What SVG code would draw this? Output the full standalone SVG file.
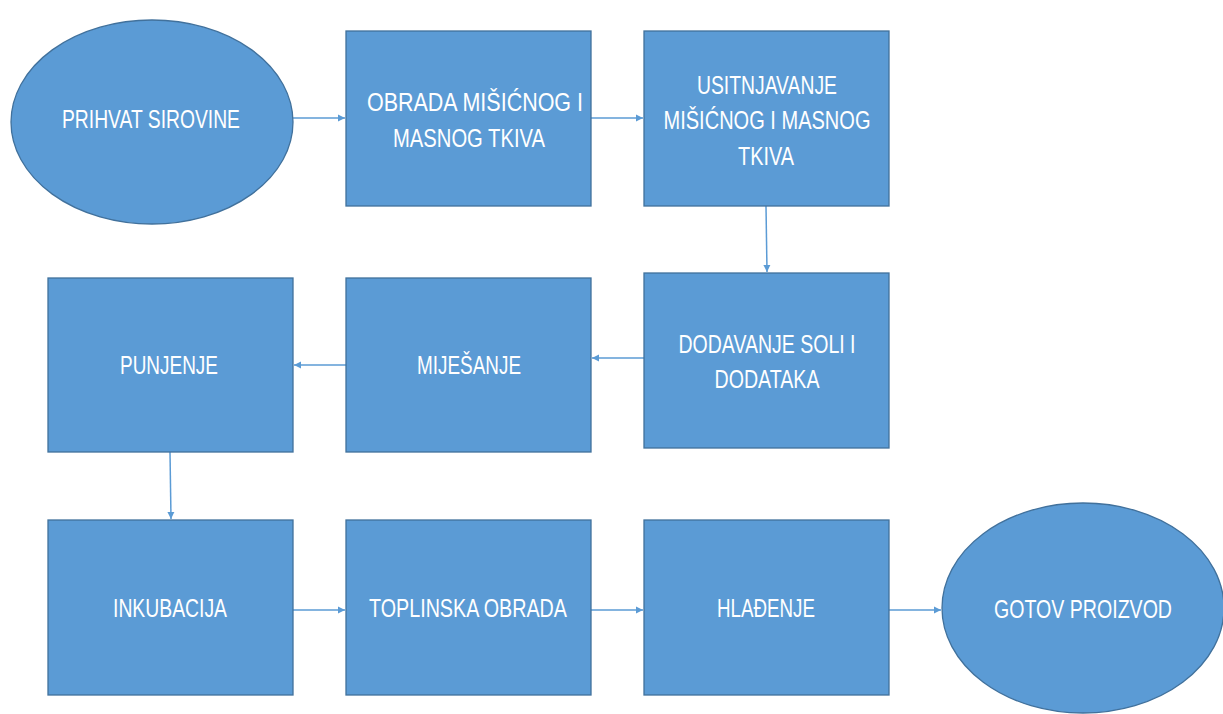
<svg xmlns="http://www.w3.org/2000/svg" width="1223" height="714" viewBox="0 0 1223 714">
<style>
.n{fill:#5B9BD5;stroke:#41719C;stroke-width:1.3}
.t{fill:#FFFFFF;font-family:"Liberation Sans",Arial,sans-serif;font-size:25px;text-anchor:middle}
.c{stroke:#5B9BD5;stroke-width:1.5;fill:none;marker-end:url(#ah)}
</style>
<defs>
<marker id="ah" markerWidth="8" markerHeight="8" refX="7" refY="4" orient="auto" markerUnits="userSpaceOnUse">
<path d="M0,0.5 L7,4 L0,7.5 Z" fill="#5B9BD5"/>
</marker>
</defs>
<rect width="1223" height="714" fill="#FFFFFF"/>
<g id="connectors">
<line class="c" x1="293" y1="118" x2="345" y2="118"/>
<line class="c" x1="591" y1="118" x2="643" y2="118"/>
<line class="c" x1="766" y1="206" x2="767" y2="272"/>
<line class="c" x1="644" y1="358" x2="592" y2="358"/>
<line class="c" x1="346" y1="365" x2="294" y2="365"/>
<line class="c" x1="170" y1="452" x2="171" y2="519"/>
<line class="c" x1="293" y1="610" x2="345" y2="610"/>
<line class="c" x1="591" y1="610" x2="643" y2="610"/>
<line class="c" x1="889" y1="610" x2="941" y2="610"/>
</g>
<g id="n1">
<ellipse class="n" cx="152" cy="122" rx="141" ry="102"/>
<text class="t" x="151" y="128" textLength="178" lengthAdjust="spacingAndGlyphs">PRIHVAT SIROVINE</text>
</g>
<g id="n2">
<rect class="n" x="346" y="31" width="245" height="175"/>
<text class="t" x="475" y="111" textLength="216" lengthAdjust="spacingAndGlyphs">OBRADA MIŠIĆNOG I</text>
<text class="t" x="469" y="147" textLength="152" lengthAdjust="spacingAndGlyphs">MASNOG TKIVA</text>
</g>
<g id="n3">
<rect class="n" x="644" y="31" width="245" height="175"/>
<text class="t" x="767" y="94" textLength="140" lengthAdjust="spacingAndGlyphs">USITNJAVANJE</text>
<text class="t" x="767" y="129" textLength="207" lengthAdjust="spacingAndGlyphs">MIŠIĆNOG I MASNOG</text>
<text class="t" x="766" y="165" textLength="56" lengthAdjust="spacingAndGlyphs">TKIVA</text>
</g>
<g id="n4">
<rect class="n" x="644" y="273" width="245" height="175"/>
<text class="t" x="767" y="353" textLength="177" lengthAdjust="spacingAndGlyphs">DODAVANJE SOLI I</text>
<text class="t" x="767" y="388" textLength="105" lengthAdjust="spacingAndGlyphs">DODATAKA</text>
</g>
<g id="n5">
<rect class="n" x="346" y="278" width="245" height="174"/>
<text class="t" x="469" y="374" textLength="104" lengthAdjust="spacingAndGlyphs">MIJEŠANJE</text>
</g>
<g id="n6">
<rect class="n" x="48" y="278" width="245" height="174"/>
<text class="t" x="169" y="374" textLength="98" lengthAdjust="spacingAndGlyphs">PUNJENJE</text>
</g>
<g id="n7">
<rect class="n" x="48" y="520" width="245" height="175"/>
<text class="t" x="170" y="617" textLength="114" lengthAdjust="spacingAndGlyphs">INKUBACIJA</text>
</g>
<g id="n8">
<rect class="n" x="346" y="520" width="245" height="175"/>
<text class="t" x="468" y="617" textLength="198" lengthAdjust="spacingAndGlyphs">TOPLINSKA OBRADA</text>
</g>
<g id="n9">
<rect class="n" x="644" y="520" width="245" height="175"/>
<text class="t" x="766" y="617" textLength="98" lengthAdjust="spacingAndGlyphs">HLAĐENJE</text>
</g>
<g id="n10">
<ellipse class="n" cx="1083" cy="608" rx="141" ry="105"/>
<text class="t" x="1083" y="618" textLength="178" lengthAdjust="spacingAndGlyphs">GOTOV PROIZVOD</text>
</g>
</svg>
